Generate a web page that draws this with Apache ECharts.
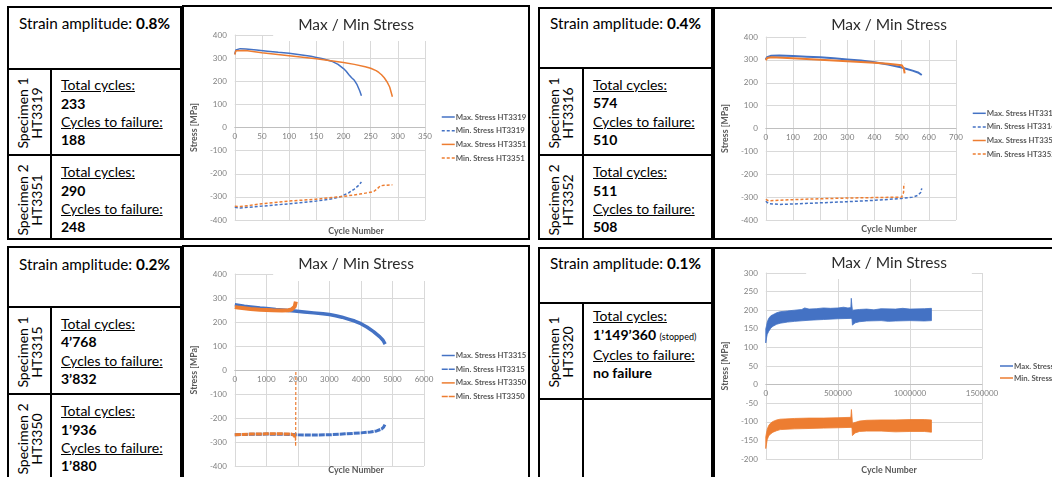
<!DOCTYPE html>
<html>
<head>
<meta charset="utf-8">
<script src="https://cdn.jsdelivr.net/npm/echarts@6/dist/echarts.min.js"></script>
<style>
  html, body { margin: 0; padding: 0; background: #fff; width: 1052px; height: 477px; overflow: hidden;
    font-family: Lato, 'Noto Sans', sans-serif; color: #000; }
  .tbl { position: absolute; box-sizing: border-box; border: 2px solid #000; overflow: hidden; }
  .hl { position: absolute; left: 0; right: 0; height: 2px; background: #000; }
  .vl { position: absolute; width: 2px; background: #000; bottom: 0; }
  .hdr { position: absolute; left: 0; right: 0; text-align: center; font-size: 15.3px; line-height: 18px; }
  .spec { position: absolute; display: flex; align-items: center; justify-content: center; }
  .spec div { transform: rotate(-90deg); white-space: nowrap; text-align: center; font-size: 14px; line-height: 14px; }
  .info { position: absolute; display: flex; align-items: center; }
  .info div { font-size: 14px; line-height: 18.3px; white-space: nowrap; }
  .u { text-decoration: underline; text-underline-offset: 1px; }
  .small { font-size: 9px; font-weight: normal; }
  .chartbox { position: absolute; box-sizing: border-box; border: 2px solid #000; pointer-events: none; }
  .chart { position: absolute; }
</style>
</head>
<body>
<div id="page"></div>
<script>
// ---- table contents ----
const strainAmplitudes = ['0.8%', '0.4%', '0.2%', '0.1%'];
const specimenNos = ['Specimen 1', 'Specimen 2'];
const ids08 = ['HT3319', 'HT3351'];
const total08 = ['233', '290'];
const fail08 = ['188', '248'];
const ids04 = ['HT3316', 'HT3352'];
const total04 = ['574', '511'];
const fail04 = ['510', '508'];
const ids02 = ['HT3315', 'HT3350'];
const total02 = ['4’768', '1’936'];
const fail02 = ['3’832', '1’880'];
const ids01 = ['HT3320'];
const total01 = ['1’149’360'];
const fail01 = ['no failure'];

// ---- axis ticks: [min, max, interval] ----
const xTicks08 = [0, 350, 50];
const xTicks04 = [0, 700, 100];
const xTicks02 = [0, 6000, 1000];
const xTicks01 = [0, 1500000, 500000];
const yTicks = [-400, 400, 100];
const yTicks01 = [-200, 300, 50];

// ---- 0.8 % : [cycle, stress MPa] ----
const maxHT3319 = [[0,318],[2,335],[5,340],[10,341],[20,339],[40,335],[60,330],[80,325],[100,321],[120,315],[140,308],[150,303],[160,298],[170,292],[180,285],[190,273],[200,255],[205,243],[210,228],[215,215],[220,204],[225,185],[230,158],[233,137]];
const minHT3319 = [[0,-345],[3,-350],[10,-348],[50,-340],[100,-330],[150,-318],[180,-308],[195,-299],[200,-293],[210,-282],[220,-266],[228,-250],[233,-236]];
const maxHT3351 = [[0,315],[2,332],[5,336],[20,333],[50,323],[100,310],[150,297],[180,288],[200,281],[220,273],[240,263],[250,256],[260,246],[265,238],[270,228],[275,215],[280,198],[285,175],[290,133]];
const minHT3351 = [[0,-340],[3,-345],[10,-342],[50,-330],[100,-318],[150,-310],[200,-298],[230,-288],[255,-278],[262,-265],[268,-252],[275,-250],[290,-248]];

// ---- 0.4 % ----
const maxHT3316 = [[0,303],[5,312],[20,318],[50,319],[100,317],[150,314],[200,311],[250,307],[300,302],[350,297],[400,290],[450,280],[500,267],[540,253],[560,245],[574,234]];
const minHT3316 = [[0,-318],[10,-328],[50,-332],[100,-330],[200,-325],[300,-320],[400,-314],[500,-306],[540,-300],[560,-292],[570,-280],[574,-262]];
const maxHT3352 = [[0,298],[5,308],[20,311],[100,307],[200,301],[300,294],[400,287],[450,283],[500,277],[505,275],[508,262],[511,241]];
const minHT3352 = [[0,-310],[10,-316],[50,-314],[100,-311],[200,-307],[300,-304],[400,-302],[500,-300],[505,-298],[507,-280],[508,-245],[511,-242]];

// ---- 0.2 % ----
const maxHT3315 = [[0,272],[100,270],[300,266],[500,263],[800,258],[1000,256],[1300,252],[1600,249],[1900,246],[2200,242],[2500,238],[2800,234],[3000,231],[3200,226],[3400,220],[3600,212],[3800,204],[4000,193],[4200,178],[4400,160],[4600,138],[4700,124],[4768,108]];
const minHT3315 = [[0,-270],[500,-268],[1000,-267],[1500,-268],[2000,-270],[2500,-271],[3000,-270],[3500,-266],[4000,-262],[4300,-258],[4500,-254],[4650,-246],[4720,-238],[4768,-225]];
const maxHT3350 = [[0,262],[100,260],[300,257],[500,254],[800,251],[1000,250],[1200,249],[1500,248],[1700,249],[1800,252],[1850,256],[1900,264],[1920,272],[1936,285]];
const minHT3350 = [[0,-270],[500,-267],[1000,-266],[1500,-266],[1800,-267],[1880,-272],[1920,-282]];
const minHT3350End = [[1920,-282],[1930,-318],[1936,-8]];

// ---- 0.1 % : scatter envelopes of the cyclic signal ----
const maxHT3320Upper = [[0,150],[5000,158],[10000,168],[20000,178],[35000,185],[50000,188],[75000,193],[100000,196],[150000,198],[200000,200],[250000,202],[270000,206],[300000,203],[350000,204],[400000,206],[450000,205],[500000,206],[540000,208],[570000,206],[590000,207],[593000,232],[597000,214],[601000,200],[650000,202],[700000,203],[750000,201],[800000,204],[900000,203],[950000,205],[1000000,203],[1100000,204],[1149360,205]];
const maxHT3320Lower = [[0,112],[5000,125],[10000,135],[20000,143],[35000,152],[50000,157],[75000,162],[100000,165],[150000,168],[200000,170],[300000,173],[400000,175],[500000,177],[590000,178],[598000,177],[601000,160],[620000,166],[650000,169],[700000,171],[800000,172],[850000,170],[900000,171],[1000000,172],[1100000,171],[1149360,172]];
const minHT3320Upper = [[0,-140],[5000,-130],[10000,-120],[20000,-110],[35000,-103],[50000,-99],[75000,-95],[100000,-93],[200000,-91],[300000,-90],[400000,-90],[500000,-89],[590000,-88],[594000,-67],[598000,-86],[601000,-104],[650000,-98],[700000,-96],[800000,-95],[900000,-95],[1000000,-94],[1100000,-94],[1149360,-95]];
const minHT3320Lower = [[0,-172],[5000,-160],[10000,-148],[20000,-138],[35000,-132],[50000,-128],[75000,-124],[100000,-121],[200000,-119],[300000,-118],[400000,-117],[500000,-116],[590000,-115],[598000,-116],[601000,-137],[620000,-130],[650000,-126],[700000,-125],[800000,-125],[900000,-127],[1000000,-126],[1100000,-126],[1149360,-128]];

const BLUE = '#4472C4';
const ORANGE = '#ED7D31';
const FONT = 'Lato, "Noto Sans", sans-serif';

const page = document.getElementById('page');

// ---- tables ----
function buildTable(t) {
  const el = document.createElement('div');
  el.className = 'tbl';
  Object.assign(el.style, { left: t.left + 'px', top: t.top + 'px', width: t.width + 'px', height: t.height + 'px' });
  let html = '<div class="hdr" style="top:' + t.hdrTop + 'px">Strain amplitude: <b>' + t.strain + '</b></div>';
  html += '<div class="hl" style="top:' + (t.rows[0] - 2) + 'px"></div>';
  html += '<div class="hl" style="top:' + (t.rows[1] - 2) + 'px"></div>';
  html += '<div class="vl" style="left:' + (t.divX - 2) + 'px;top:' + t.rows[0] + 'px"></div>';
  const bounds = [[t.rows[0], t.rows[1]], [t.rows[1], t.rows[1] + 88]];
  t.ids.forEach((id, i) => {
    const [a, b] = bounds[i];
    html += '<div class="spec" style="left:0;width:' + (t.divX - 2) + 'px;top:' + a + 'px;height:' + (b - a) + 'px"><div>' + specimenNos[i] + '<br>' + id + '</div></div>';
    const extra = t.stopped ? ' <span class="small">(stopped)</span>' : '';
    html += '<div class="info" style="left:' + (t.divX + t.textPad) + 'px;top:' + a + 'px;height:' + (b - a - t.infoShift) + 'px"><div>' +
      '<span class="u">Total cycles:</span><br><b>' + t.total[i] + '</b>' + extra + '<br>' +
      '<span class="u">Cycles to failure:</span><br><b>' + t.fail[i] + '</b></div></div>';
  });
  el.innerHTML = html;
  page.appendChild(el);
}

buildTable({ left: 7, top: 6, width: 175, height: 234, divX: 43, rows: [62, 148], hdrTop: 6, textPad: 9, infoShift: 0,
  strain: strainAmplitudes[0], ids: ids08, total: total08, fail: fail08 });
buildTable({ left: 538, top: 7, width: 175, height: 233, divX: 44, rows: [60, 147], hdrTop: 5, textPad: 9, infoShift: 0,
  strain: strainAmplitudes[1], ids: ids04, total: total04, fail: fail04 });
buildTable({ left: 7, top: 246, width: 175, height: 240, divX: 43, rows: [60, 147], hdrTop: 7, textPad: 9, infoShift: 0,
  strain: strainAmplitudes[2], ids: ids02, total: total02, fail: fail02 });
buildTable({ left: 538, top: 247, width: 175, height: 240, divX: 44, rows: [55, 151], hdrTop: 5, textPad: 9, infoShift: 14, stopped: true,
  strain: strainAmplitudes[3], ids: ids01, total: total01, fail: fail01 });

// ---- charts ----
function line(name, data, color, dashed, width) {
  return {
    type: 'line', name, data, symbol: 'none', z: 3,
    lineStyle: { color, width: width || 1.5, type: dashed ? (dashed === true ? [3, 2] : dashed) : 'solid' },
    itemStyle: { color }
  };
}
function band(name, upper, lower, color) {
  return {
    type: 'custom', name, data: [[0, 0]], z: 3, itemStyle: { color },
    renderItem: (params, api) => {
      const pts = upper.map(p => api.coord(p)).concat(lower.slice().reverse().map(p => api.coord(p)));
      return { type: 'polygon', shape: { points: pts }, style: { fill: color, stroke: color, lineWidth: 0.8 } };
    }
  };
}

function makeChart(c) {
  const box = document.createElement('div');
  box.className = 'chart';
  Object.assign(box.style, { left: c.left + 'px', top: c.top + 'px', width: c.width + 'px', height: c.height + 'px' });
  page.appendChild(box);
  const frame = document.createElement('div');
  frame.className = 'chartbox';
  Object.assign(frame.style, { left: c.left + 'px', top: c.top + 'px', width: c.width + 'px', height: c.height + 'px' });
  page.appendChild(frame);

  const grey = '#d9d9d9';
  // the cycle axis sits on the zero line of the stress axis
  const zeroOffset = -c.grid.height * (0 - c.y[0]) / (c.y[1] - c.y[0]);
  const chart = echarts.init(box, null, { renderer: 'canvas' });
  chart.setOption({
    animation: false,
    textStyle: { fontFamily: FONT },
    title: [
      { text: 'Max / Min Stress', left: 'center', top: c.titleTop, backgroundColor: '#fff',
        padding: c.titlePad, textStyle: { fontSize: 15.5, fontWeight: 'normal', color: '#2b2b2b', lineHeight: 20, fontFamily: FONT } },
      { text: 'Cycle Number', left: 'center', top: c.nameTop, padding: 0,
        textStyle: { fontSize: 8.8, fontWeight: 'bold', color: '#595959', fontFamily: FONT } }
    ],
    grid: c.grid,
    legend: {
      orient: 'vertical', left: c.legend.left, top: c.legend.top, itemWidth: 13, itemHeight: c.legend.itemHeight || 8,
      itemGap: c.legend.gap, padding: 0, data: c.legend.data,
      lineStyle: { width: 1.5 },
      itemStyle: c.legend.data ? {} : { opacity: 0 },
      textStyle: { fontSize: 7.8, fontWeight: 'bold', color: '#595959', lineHeight: 10, fontFamily: FONT, padding: [0, 0, 0, -4] }
    },
    xAxis: {
      type: 'value', min: c.x[0], max: c.x[1], interval: c.x[2],
      position: 'bottom', offset: zeroOffset,
      axisLine: { onZero: false, lineStyle: { color: '#bfbfbf', width: 1 } },
      axisTick: { show: false },
      axisLabel: { color: '#808080', fontSize: 8, margin: 5, formatter: v => String(v), fontFamily: FONT },
      splitLine: { show: true, lineStyle: { color: grey, width: 1 } }
    },
    yAxis: {
      type: 'value', min: c.y[0], max: c.y[1], interval: c.y[2],
      name: 'Stress [MPa]', nameLocation: 'middle', nameGap: 31,
      nameTextStyle: { fontSize: 8.8, fontWeight: 'bold', color: '#595959', fontFamily: FONT },
      axisLine: { show: true, onZero: false, lineStyle: { color: grey, width: 1 } },
      axisTick: { show: false },
      axisLabel: { color: '#808080', fontSize: 8, margin: 8, formatter: v => String(v), fontFamily: FONT },
      splitLine: { show: true, lineStyle: { color: grey, width: 1 } }
    },
    series: c.series
  });
}

makeChart({
  left: 182, top: 5, width: 348, height: 235,
  grid: { left: 44, top: 30, width: 199, height: 185 },
  titleTop: 2, titlePad: [8, 25, 6, 25], nameTop: 222,
  x: xTicks08, y: yTicks,
  legend: { left: 259, top: 107, gap: 3.7 },
  series: [
    line('Max. Stress ' + ids08[0], maxHT3319, BLUE),
    line('Min. Stress ' + ids08[0], minHT3319, BLUE, true),
    line('Max. Stress ' + ids08[1], maxHT3351, ORANGE),
    line('Min. Stress ' + ids08[1], minHT3351, ORANGE, true)
  ]
});

makeChart({
  left: 713, top: 7, width: 352, height: 233,
  grid: { left: 44, top: 30, width: 199, height: 183 },
  titleTop: 1, titlePad: [7, 25, 5, 25], nameTop: 218,
  x: xTicks04, y: yTicks,
  legend: { left: 259, top: 101.3, gap: 3.6 },
  series: [
    line('Max. Stress ' + ids04[0], maxHT3316, BLUE, false, 2),
    line('Min. Stress ' + ids04[0], minHT3316, BLUE, true),
    line('Max. Stress ' + ids04[1], maxHT3352, ORANGE, false, 2),
    line('Min. Stress ' + ids04[1], minHT3352, ORANGE, true)
  ]
});

makeChart({
  left: 182, top: 245, width: 348, height: 240,
  grid: { left: 44, top: 29, width: 198, height: 192 },
  titleTop: 1, titlePad: [8, 25, 7, 25], nameTop: 221,
  x: xTicks02, y: yTicks,
  legend: { left: 259, top: 105.5, gap: 3.7 },
  series: [
    line('Max. Stress ' + ids02[0], maxHT3315, BLUE, false, 3.5),
    line('Min. Stress ' + ids02[0], minHT3315, BLUE, [6, 1], 3),
    line('Max. Stress ' + ids02[1], maxHT3350, ORANGE, false, 4),
    line('Min. Stress ' + ids02[1], minHT3350, ORANGE, [6, 1], 3),
    line('Min. Stress ' + ids02[1], minHT3350End, ORANGE, true, 1.2)
  ]
});

makeChart({
  left: 713, top: 247, width: 352, height: 240,
  grid: { left: 44, top: 26, width: 225, height: 186 },
  titleTop: 0, titlePad: [6, 25, 6, 25], nameTop: 219,
  x: xTicks01, y: yTicks01,
  legend: { left: 287, top: 114, gap: 2, itemHeight: 1.5,
    data: [{ name: 'Max. Stress ' + ids01[0], icon: 'rect' }, { name: 'Min. Stress ' + ids01[0], icon: 'rect' }] },
  series: [
    band('Max. Stress ' + ids01[0], maxHT3320Upper, maxHT3320Lower, BLUE),
    band('Min. Stress ' + ids01[0], minHT3320Upper, minHT3320Lower, ORANGE)
  ]
});
</script>
</body>
</html>
